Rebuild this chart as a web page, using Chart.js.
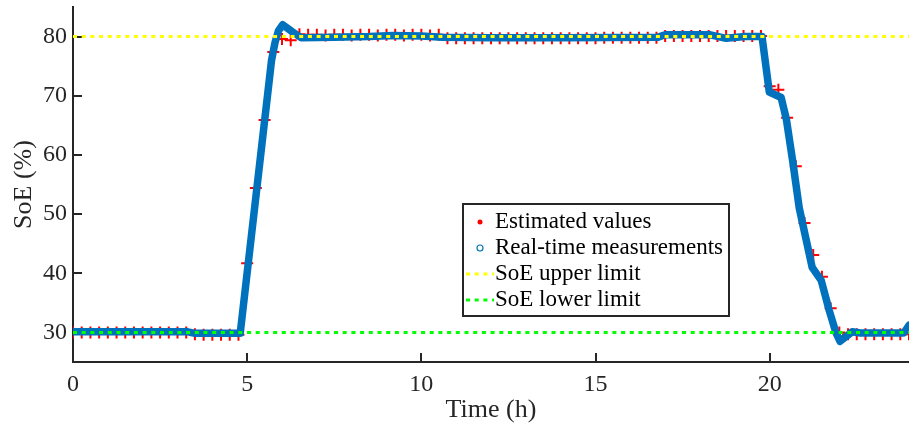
<!DOCTYPE html>
<html>
<head>
<meta charset="utf-8">
<title>SoE</title>
<script src="https://cdn.jsdelivr.net/npm/chart.js@4.4.0/dist/chart.umd.min.js"></script>
<style>
  html, body { margin: 0; padding: 0; background: #fff; }
  #wrap { width: 909px; height: 434px; }
</style>
</head>
<body>
<div id="wrap"><canvas id="soeChart" width="909" height="434"></canvas></div>
<script>
// estimated state of energy, one value every quarter hour
const estTime = [
    0, 0.25, 0.5, 0.75, 1, 1.25, 1.5, 1.75, 2, 2.25, 2.5, 2.75, 3, 3.25, 3.5, 3.75,
    4, 4.25, 4.5, 4.75, 5, 5.25, 5.5, 5.75, 6, 6.25, 6.5, 6.75, 7, 7.25, 7.5, 7.75,
    8, 8.25, 8.5, 8.75, 9, 9.25, 9.5, 9.75, 10, 10.25, 10.5, 10.75, 11, 11.25, 11.5, 11.75,
    12, 12.25, 12.5, 12.75, 13, 13.25, 13.5, 13.75, 14, 14.25, 14.5, 14.75, 15, 15.25, 15.5, 15.75,
    16, 16.25, 16.5, 16.75, 17, 17.25, 17.5, 17.75, 18, 18.25, 18.5, 18.75, 19, 19.25, 19.5, 19.75,
    20, 20.25, 20.5, 20.75, 21, 21.25, 21.5, 21.75, 22, 22.25, 22.5, 22.75, 23, 23.25, 23.5, 23.75, 24
];
const estSoE = [
    30.0, 30.0, 30.0, 30.0, 30.0, 30.0, 30.0, 30.0, 30.0, 30.0, 30.0, 30.0, 30.0, 30.0, 29.7, 29.6,
    29.6, 29.6, 29.6, 29.6, 41.7, 54.4, 65.9, 77.4, 79.6, 79.4, 80.4, 80.3, 80.3, 80.2, 80.3, 80.3,
    80.2, 80.3, 80.3, 80.2, 80.3, 80.3, 80.2, 80.3, 80.3, 80.2, 80.3, 79.7, 79.7, 79.7, 79.7, 79.7,
    79.7, 79.7, 79.7, 79.7, 79.7, 79.7, 79.7, 79.7, 79.7, 79.7, 79.7, 79.7, 79.7, 79.8, 79.8, 79.8,
    79.8, 79.8, 79.8, 79.8, 80.1, 80.1, 80.1, 80.1, 80.1, 80.1, 80.1, 80.1, 80.1, 80.1, 80.1, 80.1,
    71.6, 71.0, 66.3, 58.1, 48.5, 43.1, 39.4, 34.1, 30.0, 29.7, 29.7, 29.7, 29.7, 29.7, 29.7, 29.7, 29.7
];

// real-time measurements
const measTime = [
    0, 3.3, 3.5, 4.8, 5.7, 5.8, 5.9, 6.02, 6.3, 6.55, 7.5, 8.5, 9.2, 10.0, 10.6, 12.0, 14.0,
    16.8, 17.0, 18.3, 18.75, 19.3, 19.78, 19.99, 20.33, 20.48, 20.66, 20.85, 21.05, 21.22,
    21.48, 21.71, 21.9, 22.02, 22.37, 22.6, 23.85, 24.0
];
const measSoE = [
    30.1, 30.1, 29.85, 29.85, 76.0, 79.0, 81.0, 82.0, 80.8, 79.8, 79.9, 80.0, 80.2, 80.1, 79.9, 79.8, 79.8,
    79.9, 80.3, 80.3, 79.7, 80.0, 80.0, 70.6, 69.7, 66.0, 59.0, 51.0, 45.6, 41.0,
    38.8, 33.7, 30.0, 28.5, 30.1, 29.9, 29.9, 31.2
];

const upperLimit = 80;
const lowerLimit = 30;

const xRange = [0, 24];
const yRange = [25, 85];
const xTicks = [0, 5, 10, 15, 20];
const yTicks = [30, 40, 50, 60, 70, 80];

const seriesLabels = ['Estimated values', 'Real-time measurements', 'SoE upper limit', 'SoE lower limit'];
const legendMarks = ['dot', 'circle', 'line', 'line'];

const axisColor = '#262626';
const serif = '"Liberation Serif", "Times New Roman", serif';

function toPoints(xs, ys) {
    return xs.map(function (x, i) { return { x: x, y: ys[i] }; });
}

// MATLAB style ticks pointing into the plot
const inwardTicks = {
    id: 'inwardTicks',
    beforeDatasetsDraw(chart) {
        const { ctx, chartArea, scales } = chart;
        ctx.save();
        ctx.strokeStyle = axisColor;
        ctx.lineWidth = 2;
        ctx.beginPath();
        xTicks.forEach(function (v) {
            const px = Math.round(scales.x.getPixelForValue(v));
            ctx.moveTo(px, chartArea.bottom);
            ctx.lineTo(px, chartArea.bottom - 9);
        });
        yTicks.forEach(function (v) {
            const py = Math.round(scales.y.getPixelForValue(v));
            ctx.moveTo(chartArea.left, py);
            ctx.lineTo(chartArea.left + 9, py);
        });
        ctx.stroke();
        ctx.restore();
    }
};

// boxed legend inside the plot
const boxLegend = {
    id: 'boxLegend',
    afterDraw(chart) {
        const ctx = chart.ctx;
        const sets = chart.data.datasets;
        const left = 463, top = 204, rowH = 26;
        const textX = left + 32;
        ctx.save();
        ctx.font = '23px ' + serif;
        let maxW = 0;
        sets.forEach(function (ds) { maxW = Math.max(maxW, ctx.measureText(ds.label).width); });
        const w = textX - left + maxW + 6;
        const h = rowH * sets.length + 8;
        ctx.fillStyle = '#fff';
        ctx.fillRect(left, top, w, h);
        ctx.strokeStyle = axisColor;
        ctx.lineWidth = 2;
        ctx.strokeRect(left, top, w, h);

        sets.forEach(function (ds, i) {
            const cy = top + 18 + i * rowH;
            const mark = legendMarks[i];
            ctx.setLineDash([]);
            if (mark === 'dot') {
                ctx.fillStyle = ds.pointBorderColor;
                ctx.beginPath();
                ctx.arc(left + 17, cy, 2.5, 0, Math.PI * 2);
                ctx.fill();
            } else if (mark === 'circle') {
                ctx.strokeStyle = ds.borderColor;
                ctx.lineWidth = 1.2;
                ctx.beginPath();
                ctx.arc(left + 17, cy, 3, 0, Math.PI * 2);
                ctx.stroke();
            } else {
                ctx.strokeStyle = ds.borderColor;
                ctx.lineWidth = 3;
                ctx.setLineDash(ds.borderDash);
                ctx.beginPath();
                ctx.moveTo(left + 3, cy);
                ctx.lineTo(left + 31, cy);
                ctx.stroke();
            }
            ctx.fillStyle = '#000';
            ctx.textAlign = 'left';
            ctx.textBaseline = 'middle';
            ctx.fillText(ds.label, textX, cy);
        });
        ctx.restore();
    }
};

const ctx = document.getElementById('soeChart').getContext('2d');

const soeChart = new Chart(ctx, {
    type: 'scatter',
    data: {
        datasets: [
            {
                label: seriesLabels[0],
                data: toPoints(estTime, estSoE),
                showLine: false,
                pointStyle: 'cross',
                pointRadius: 6,
                pointBorderWidth: 2,
                pointBorderColor: '#FF0000',
                pointBackgroundColor: '#FF0000',
                order: 3
            },
            {
                label: seriesLabels[1],
                data: toPoints(measTime, measSoE),
                showLine: true,
                borderColor: '#0072BD',
                borderWidth: 7.5,
                borderJoinStyle: 'round',
                borderCapStyle: 'round',
                pointRadius: 0,
                tension: 0,
                order: 2
            },
            {
                label: seriesLabels[2],
                data: toPoints(xRange, [upperLimit, upperLimit]),
                showLine: true,
                borderColor: '#FFFF00',
                borderWidth: 3,
                borderDash: [4, 4.7],
                pointRadius: 0,
                order: 1
            },
            {
                label: seriesLabels[3],
                data: toPoints(xRange, [lowerLimit, lowerLimit]),
                showLine: true,
                borderColor: '#00FF00',
                borderWidth: 3,
                borderDash: [4, 4.7],
                pointRadius: 0,
                order: 0
            }
        ]
    },
    options: {
        responsive: false,
        animation: false,
        layout: { autoPadding: false, padding: { top: 7, right: 0, bottom: 0, left: 0 } },
        plugins: {
            legend: { display: false },
            tooltip: { enabled: false }
        },
        scales: {
            x: {
                type: 'linear',
                min: xRange[0],
                max: xRange[1],
                afterBuildTicks: function (scale) {
                    scale.ticks = xTicks.map(function (v) { return { value: v }; });
                },
                afterFit: function (scale) {
                    scale.height = 72;
                    scale.paddingLeft = 0;
                    scale.paddingRight = 0;
                },
                grid: { display: false, drawTicks: false },
                border: { display: true, color: axisColor, width: 2 },
                ticks: {
                    color: axisColor,
                    padding: 8,
                    maxRotation: 0,
                    font: { family: serif, size: 24 }
                },
                title: {
                    display: true,
                    text: 'Time (h)',
                    color: axisColor,
                    padding: { top: 0, bottom: 8 },
                    font: { family: serif, size: 26 }
                }
            },
            y: {
                min: yRange[0],
                max: yRange[1],
                afterBuildTicks: function (scale) {
                    scale.ticks = yTicks.map(function (v) { return { value: v }; });
                },
                afterFit: function (scale) {
                    scale.width = 73;
                    scale.paddingTop = 0;
                    scale.paddingBottom = 0;
                },
                grid: { display: false, drawTicks: false },
                border: { display: true, color: axisColor, width: 2 },
                ticks: {
                    color: axisColor,
                    padding: 6,
                    font: { family: serif, size: 24 }
                },
                title: {
                    display: true,
                    text: 'SoE (%)',
                    color: axisColor,
                    padding: { top: 9, bottom: 0 },
                    font: { family: serif, size: 26 }
                }
            }
        }
    },
    plugins: [inwardTicks, boxLegend]
});
</script>
</body>
</html>
